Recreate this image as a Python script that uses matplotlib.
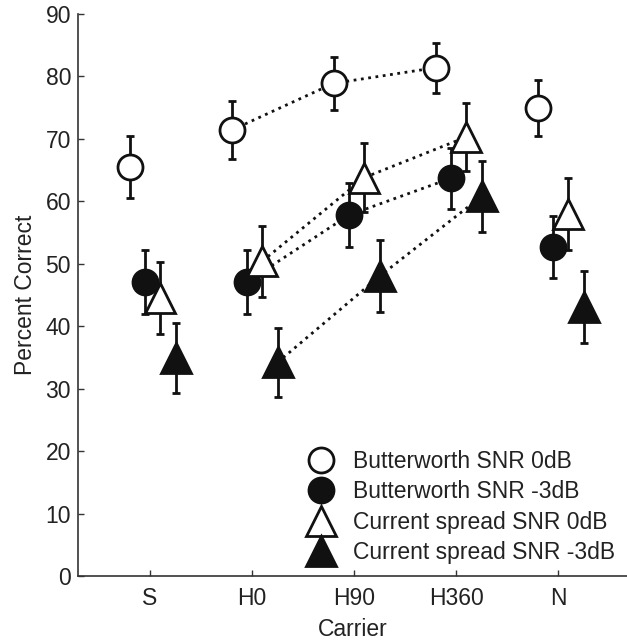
import numpy as np
import matplotlib.pyplot as plt
from matplotlib.lines import Line2D

plt.rcParams['font.family'] = ['Liberation Sans', 'DejaVu Sans']

carriers = ["S", "H0", "H90", "H360", "N"]
labels = ["Butterworth SNR 0dB", "Butterworth SNR -3dB",
          "Current spread SNR 0dB", "Current spread SNR -3dB"]

# mean percent correct per carrier
bw_0 = [65.5, 71.4, 78.9, 81.4, 74.9]
bw_3 = [47.1, 47.1, 57.8, 63.7, 52.7]
cs_0 = [44.5, 50.4, 63.8, 70.3, 58.0]
cs_3 = [34.9, 34.2, 48.0, 60.8, 43.1]

# error bar half-widths
bw_0_err = [5.0, 4.6, 4.2, 4.0, 4.5]
bw_3_err = [5.1, 5.1, 5.1, 4.9, 5.0]
cs_0_err = [5.8, 5.7, 5.5, 5.4, 5.8]
cs_3_err = [5.6, 5.5, 5.8, 5.7, 5.8]

means = [bw_0, bw_3, cs_0, cs_3]
errs = [bw_0_err, bw_3_err, cs_0_err, cs_3_err]
offsets = [-0.2, -0.05, 0.1, 0.25]
markers = ["o", "o", "^", "^"]
faces = ["white", "#111111", "white", "#111111"]
sizes = [18, 18, 22, 22]

k = "#111111"
fs = 16.5
fig = plt.figure(figsize=(6.27, 6.41), dpi=100)
ax = fig.add_axes([78/627, 65/641, 549/627, 562/641])

x = np.arange(1, len(carriers) + 1)
for i in range(4):
    xs = x + offsets[i]
    ax.plot(xs[1:4], means[i][1:4], linestyle=":", color=k, lw=2, zorder=1 + i)
    ax.errorbar(xs, means[i], yerr=errs[i], fmt=markers[i], ms=sizes[i],
                mfc=faces[i], mec=k, mew=2, ecolor=k, elinewidth=2,
                capsize=3, capthick=2, zorder=2 + i)

ax.set_xlim(0.294, 5.676)
ax.set_ylim(0, 90)
ax.set_xticks(x)
ax.set_xticklabels(carriers)
ax.set_yticks(np.arange(0, 91, 10))
ax.tick_params(direction="in", length=4, width=1, labelsize=fs, colors="#333333",
               labelcolor="#222222", pad=5)
ax.tick_params(axis="x", pad=8)
for s in ["top", "right"]:
    ax.spines[s].set_visible(False)
for s in ["left", "bottom"]:
    ax.spines[s].set_color("#333333")
    ax.spines[s].set_linewidth(1.2)
ax.set_xlabel("Carrier", fontsize=fs, color="#222222", labelpad=6)
ax.set_ylabel("Percent Correct", fontsize=fs, color="#222222", labelpad=6)

handles = [Line2D([], [], linestyle="none", marker=markers[i], ms=sizes[i],
                  mfc=faces[i], mec=k, mew=2) for i in range(4)]
fig.legend(handles, labels, loc="upper left", bbox_to_anchor=(0.4955, 0.298),
           frameon=False, fontsize=fs, handlelength=0.9, handletextpad=0.95,
           labelspacing=0.32, borderpad=0, borderaxespad=0, labelcolor="#222222")

fig.savefig("out.png", dpi=100)
